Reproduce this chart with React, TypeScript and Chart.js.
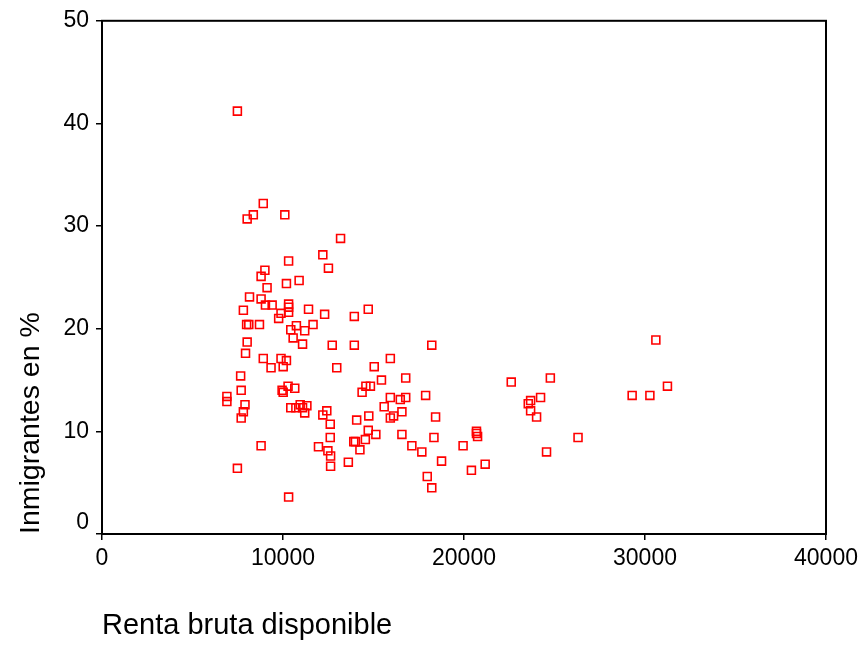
import React, { useEffect, useRef } from "react";
import { Chart, registerables } from "chart.js";

Chart.register(...registerables);

// Renta bruta disponible (x) and Inmigrantes en % (y)
const rentaBruta: number[] = [
  7480, 8910, 8360, 8020, 10100, 13180, 12200, 10310, 12510, 9000,
  8790, 9120, 10190, 10890, 8150, 8790, 9030, 9400, 7810, 10310,
  10310, 10310, 9890, 11410, 14710, 12300, 13940, 9760, 7990, 8110,
  8700, 11660, 10740, 10430, 11200, 10560, 8020, 11080, 12720, 13940,
  18220, 30600, 7930, 8910, 9890, 10190, 15930, 10010, 9340, 12970,
  15040, 15440, 16780, 7660, 24770, 22610, 31240, 10280, 14580, 14830,
  10650, 7690, 9950, 10010, 14370, 6900, 6900, 15930, 16780, 17880,
  24230, 29290, 30270, 16480, 23680, 23550, 7900, 10950, 10430, 10710,
  11080, 11320, 15590, 12420, 23680, 7810, 16570, 11200, 12200, 14740,
  16110, 15930, 18430, 24010, 7690, 14070, 12610, 14710, 20690, 20690,
  15130, 16570, 20750, 12610, 18340, 26300, 14550, 13910, 14000, 8790,
  11960, 17120, 19950, 14250, 12480, 17670, 24560, 12630, 18760, 13610,
  12630, 21170, 7480, 20410, 17970, 18220, 10310,
];

const inmigrantes: number[] = [
  41.2, 32.2, 31.1, 30.7, 31.1, 28.8, 27.2, 26.6, 25.9, 25.7,
  25.1, 24.0, 24.4, 24.7, 23.1, 22.9, 22.3, 22.3, 21.8, 22.4,
  22.1, 21.6, 21.5, 21.9, 21.9, 21.4, 21.2, 21.0, 20.4, 20.4,
  20.4, 20.4, 20.3, 19.9, 19.8, 19.1, 18.7, 18.5, 18.4, 18.4,
  18.4, 18.9, 17.6, 17.1, 17.1, 16.9, 17.1, 16.3, 16.2, 16.2,
  16.3, 15.0, 15.2, 15.4, 15.2, 14.8, 14.4, 14.4, 14.4, 14.4,
  14.2, 14.0, 14.0, 13.8, 13.8, 13.4, 12.9, 13.3, 13.3, 13.5,
  13.3, 13.5, 13.5, 13.1, 13.0, 12.7, 12.6, 12.6, 12.3, 12.3,
  12.3, 12.5, 12.4, 12.0, 12.0, 11.9, 11.9, 11.8, 11.6, 11.5,
  11.5, 11.3, 11.4, 11.4, 11.3, 11.1, 10.7, 10.1, 10.0, 9.8,
  9.7, 9.7, 9.5, 9.4, 9.4, 9.4, 9.2, 9.0, 9.0, 8.6,
  8.5, 8.6, 8.6, 8.2, 8.1, 8.0, 8.0, 7.6, 7.1, 7.0,
  6.6, 6.8, 6.4, 6.2, 5.6, 4.5, 3.6,
];

const xTitle = "Renta bruta disponible";
const yTitle = "Inmigrantes en %";
const xTicks = [0, 10000, 20000, 30000, 40000];
const yTicks = [0, 10, 20, 30, 40, 50];

const FONT = "'Liberation Sans', Arial, Helvetica, sans-serif";

export default function App() {
  const canvasRef = useRef<HTMLCanvasElement | null>(null);

  useEffect(() => {
    const canvas = canvasRef.current;
    if (!canvas) return;

    const frame = {
      id: "frame",
      afterDraw(chart: any) {
        const { ctx, chartArea } = chart;
        ctx.save();
        ctx.strokeStyle = "#000";
        ctx.lineWidth = 2;
        ctx.strokeRect(
          chartArea.left,
          chartArea.top,
          chartArea.right - chartArea.left,
          chartArea.bottom - chartArea.top
        );
        // zero label on y axis (raised above the x-axis line)
        const yScale = chart.scales.y;
        ctx.fillStyle = "#000";
        ctx.font = `23px ${FONT}`;
        ctx.textAlign = "right";
        ctx.textBaseline = "middle";
        ctx.fillText("0", chartArea.left - 13, yScale.getPixelForValue(0) - 11);
        ctx.restore();
      },
    };

    const points = rentaBruta.map((x, i) => ({ x, y: inmigrantes[i] }));

    const chart = new Chart(canvas, {
      type: "scatter",
      data: {
        datasets: [
          {
            data: points,
            pointStyle: "rect",
            pointRadius: 5.6,
            pointHoverRadius: 5.6,
            borderColor: "#ff0000",
            backgroundColor: "rgba(0,0,0,0)",
            pointBorderWidth: 1.6,
          },
        ],
      },
      options: {
        animation: false,
        responsive: true,
        maintainAspectRatio: false,
        layout: { padding: { top: 16, right: 38, left: 0, bottom: 0 } },
        plugins: {
          legend: { display: false },
          tooltip: { enabled: false },
        },
        scales: {
          x: {
            type: "linear",
            min: 0,
            max: 40000,
            afterBuildTicks: (s: any) => {
              s.ticks = xTicks.map((v) => ({ value: v }));
            },
            afterFit: (s: any) => {
              s.height = 111;
            },
            ticks: {
              color: "#000",
              font: { size: 23, family: FONT },
              padding: 5,
              maxRotation: 0,
              callback: (v: any) => String(v),
            },
            grid: {
              display: true,
              drawOnChartArea: false,
              drawTicks: true,
              tickLength: 6,
              color: "#000",
              lineWidth: 1.5,
            },
            border: { display: true, color: "#000", width: 2 },
            title: {
              display: true,
              text: xTitle,
              align: "start",
              color: "#000",
              font: { size: 29, family: FONT },
              padding: { top: 0, bottom: 2 },
            },
          },
          y: {
            type: "linear",
            min: 0,
            max: 50,
            afterBuildTicks: (s: any) => {
              s.ticks = yTicks.map((v) => ({ value: v }));
            },
            afterFit: (s: any) => {
              s.width = 102;
            },
            ticks: {
              color: "#000",
              font: { size: 23, family: FONT },
              padding: 7,
              callback: (v: any) => (v === 0 ? "" : String(v)),
            },
            grid: {
              display: true,
              drawOnChartArea: false,
              drawTicks: true,
              tickLength: 6,
              color: "#000",
              lineWidth: 1.5,
            },
            border: { display: true, color: "#000", width: 2 },
            title: {
              display: true,
              text: yTitle,
              align: "start",
              color: "#000",
              font: { size: 28.5, family: FONT },
              padding: { top: 14, bottom: 0 },
            },
          },
        },
      },
      plugins: [frame],
    });

    return () => chart.destroy();
  }, []);

  return (
    <div
      style={{
        position: "fixed",
        left: 0,
        top: 0,
        width: 864,
        height: 645,
        background: "#fff",
      }}
    >
      <canvas ref={canvasRef} />
    </div>
  );
}
